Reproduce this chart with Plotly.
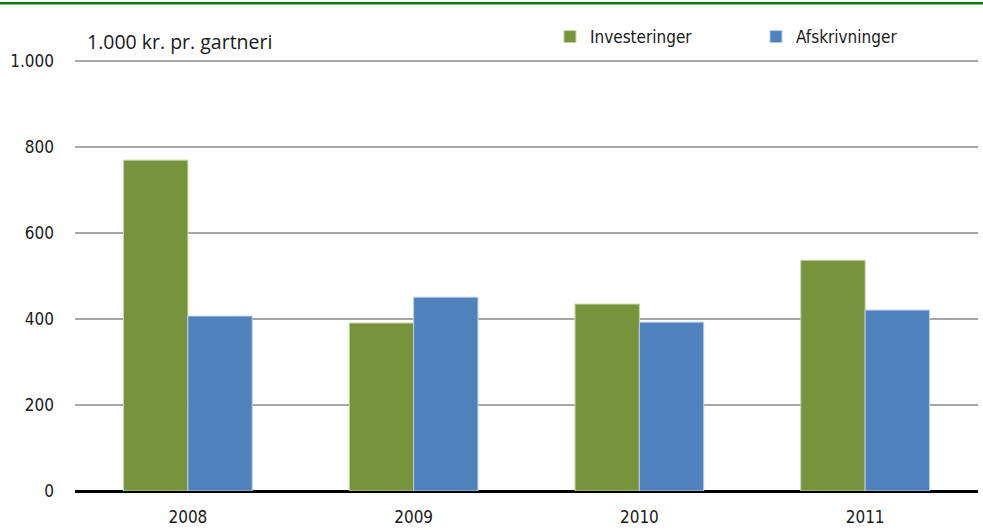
import plotly.graph_objects as go

years = ["2008", "2009", "2010", "2011"]
investeringer = [770, 391, 435, 537]
afskrivninger = [407, 451, 393, 421]
y_ticks = [0, 200, 400, 600, 800, 1000]
y_ticktext = ["0", "200", "400", "600", "800", "1.000"]

narrow = "DejaVu Sans Condensed, Liberation Sans Narrow, Arial Narrow, sans-serif"

fig = go.Figure()
fig.add_trace(go.Bar(x=years, y=investeringer, name="Investeringer",
                     marker=dict(color="#77933c", line=dict(color="#c4d5a0", width=1))))
fig.add_trace(go.Bar(x=years, y=afskrivninger, name="Afskrivninger",
                     marker=dict(color="#4f81bd", line=dict(color="#b9cde5", width=1))))

fig.update_layout(
    width=983, height=530,
    margin=dict(l=75, r=5, t=57, b=39, autoexpand=False),
    paper_bgcolor="white", plot_bgcolor="white",
    barmode="group", bargap=0.43, bargroupgap=0,
    font=dict(family=narrow, size=16, color="#1a1a1a"),
    showlegend=True,
    legend=dict(orientation="h", x=0.526, y=1.046, xanchor="left", yanchor="middle",
                entrywidth=161, entrywidthmode="pixels",
                font=dict(family=narrow, size=17), itemwidth=30,
                bgcolor="rgba(0,0,0,0)"),
    xaxis=dict(showgrid=False, showline=False, ticks="", tickfont=dict(size=17, family=narrow),
               ticklabelstandoff=14),
    yaxis=dict(range=[0, 1010], tickvals=y_ticks, ticktext=y_ticktext,
               showgrid=True, gridcolor="#a6a6a6", gridwidth=2,
               zeroline=True, zerolinecolor="#000000", zerolinewidth=3,
               showline=False, ticks="", tickfont=dict(size=17, family=narrow),
               ticklabelstandoff=20),
    shapes=[dict(type="line", xref="paper", yref="paper", x0=-0.09, x1=1.01,
                 y0=1.124, y1=1.124, line=dict(color="#0e7a0e", width=2.5))],
    annotations=[dict(text="1.000 kr. pr. gartneri", xref="paper", yref="paper",
                      x=0.011, y=1.035, xanchor="left", yanchor="middle", showarrow=False,
                      font=dict(family="Open Sans, Noto Sans, sans-serif", size=19.5, color="#1a1a1a"))],
)

fig.write_html("out.html", config={"displayModeBar": False},
               post_script="document.body.style.margin='0';document.body.style.overflow='hidden';")
